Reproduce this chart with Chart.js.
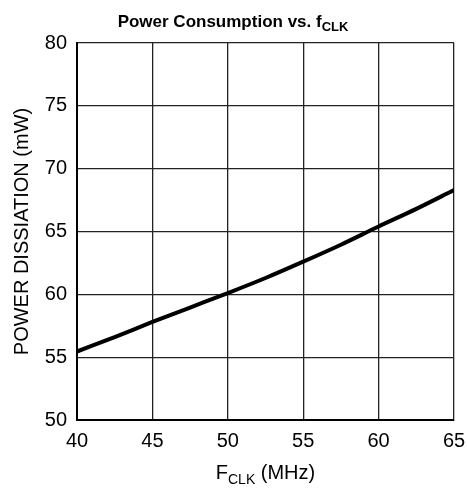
<!DOCTYPE html>
<html>
<head>
<meta charset="utf-8">
<script src="https://cdn.jsdelivr.net/npm/chart.js@4/dist/chart.umd.min.js"></script>
<style>
  body { margin: 0; background: #fff; }
  #wrap { width: 467px; height: 491px; }
</style>
</head>
<body>
<div id="wrap"><canvas id="powerChart" width="467" height="491"></canvas></div>
<script>
// data
const fclk = [40, 42.5, 45, 47.5, 50, 52.5, 55, 57.5, 60, 62.5, 65];
const powerMw = [55.45, 56.6, 57.8, 58.95, 60.1, 61.3, 62.6, 63.95, 65.4, 66.8, 68.3];
const xTicks = [40, 45, 50, 55, 60, 65];
const yTicks = [50, 55, 60, 65, 70, 75, 80];

const FONT = "Arial, 'Liberation Sans', Helvetica, sans-serif";

const titlesPlugin = {
  id: "titles",
  afterDraw(chart) {
    const ctx = chart.ctx;
    const area = chart.chartArea;
    ctx.save();
    ctx.fillStyle = "#000";
    ctx.textBaseline = "alphabetic";
    ctx.textAlign = "left";

    // chart title, f with CLK subscript
    ctx.font = "bold 17px " + FONT;
    const t1 = "Power Consumption vs. f";
    const w1 = ctx.measureText(t1).width;
    ctx.font = "bold 13px " + FONT;
    const w2 = ctx.measureText("CLK").width;
    let x0 = 233 - (w1 + w2) / 2;
    ctx.font = "bold 17px " + FONT;
    ctx.fillText(t1, x0, 27);
    ctx.font = "bold 13px " + FONT;
    ctx.fillText("CLK", x0 + w1, 31);

    // x axis title
    ctx.font = "20px " + FONT;
    const wa = ctx.measureText("F").width;
    const wc = ctx.measureText(" (MHz)").width;
    ctx.font = "14px " + FONT;
    const wb = ctx.measureText("CLK").width;
    x0 = (area.left + area.right) / 2 - (wa + wb + wc) / 2;
    ctx.font = "20px " + FONT;
    ctx.fillText("F", x0, 479);
    ctx.font = "14px " + FONT;
    ctx.fillText("CLK", x0 + wa, 484);
    ctx.font = "20px " + FONT;
    ctx.fillText(" (MHz)", x0 + wa + wb, 479);

    // y axis title
    ctx.translate(28, (area.top + area.bottom) / 2);
    ctx.rotate(-Math.PI / 2);
    ctx.textAlign = "center";
    ctx.font = "20px " + FONT;
    ctx.fillText("POWER DISSIATION (mW)", 0, 0);
    ctx.restore();
  }
};

new Chart(document.getElementById("powerChart"), {
  type: "line",
  data: {
    datasets: [{
      data: fclk.map((x, i) => ({ x: x, y: powerMw[i] })),
      borderColor: "#000",
      borderWidth: 4,
      pointRadius: 0,
      tension: 0.4,
      cubicInterpolationMode: "monotone",
      fill: false
    }]
  },
  options: {
    responsive: false,
    animation: false,
    layout: { padding: { top: 43, right: 13, left: 0, bottom: 0 } },
    plugins: {
      legend: { display: false },
      title: { display: false },
      tooltip: { enabled: false }
    },
    scales: {
      x: {
        type: "linear",
        min: 40,
        max: 65,
        afterBuildTicks: (s) => { s.ticks = xTicks.map(v => ({ value: v })); },
        afterFit: (s) => { s.height = 71; s.paddingLeft = 0; s.paddingRight = 0; },
        grid: { color: "#222", lineWidth: 1.3, drawTicks: false },
        border: { color: "#000", width: 2 },
        ticks: { color: "#000", font: { family: FONT, size: 20 }, padding: 9, maxRotation: 0 }
      },
      y: {
        min: 50,
        max: 80,
        afterBuildTicks: (s) => { s.ticks = yTicks.map(v => ({ value: v })); },
        afterFit: (s) => { s.width = 77; s.paddingTop = 0; s.paddingBottom = 0; },
        grid: { color: "#222", lineWidth: 1.3, drawTicks: false },
        border: { color: "#000", width: 2 },
        ticks: { color: "#000", font: { family: FONT, size: 20 }, padding: 10 }
      }
    }
  },
  plugins: [titlesPlugin]
});
</script>
</body>
</html>
